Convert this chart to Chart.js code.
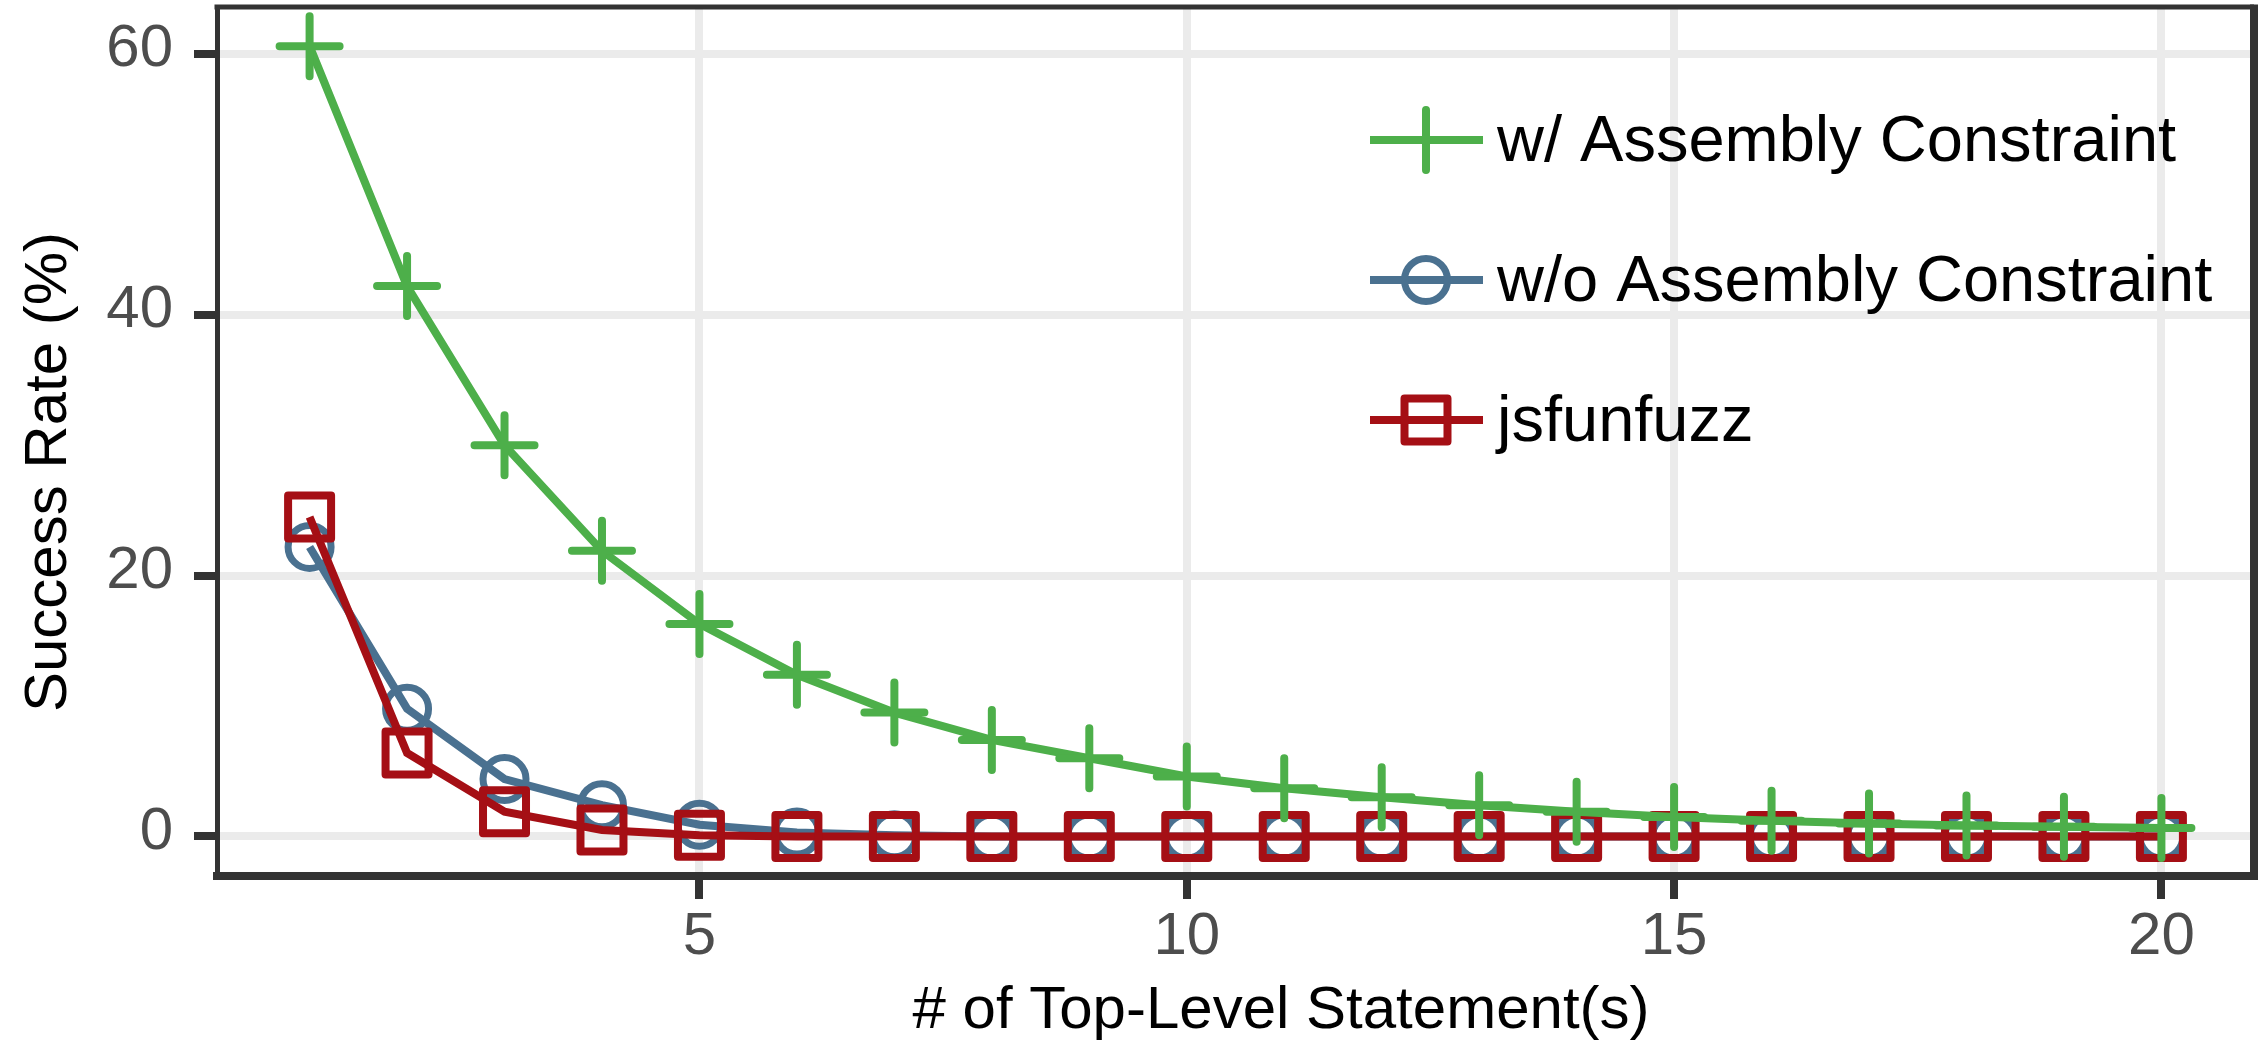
<!DOCTYPE html>
<html>
<head>
<meta charset="utf-8">
<script src="https://cdn.jsdelivr.net/npm/chart.js@4.4.1/dist/chart.umd.min.js"></script>
<style>
  html, body { margin: 0; padding: 0; background: #fff; }
  #wrap { width: 2262px; height: 1040px; }
</style>
</head>
<body>
<div id="wrap"><canvas id="chart" width="2262" height="1040"></canvas></div>
<script>
// ===== 資料 =====
const X_VALS = [1,2,3,4,5,6,7,8,9,10,11,12,13,14,15,16,17,18,19,20];
const W_ASM  = [60.6,42.2,30.0,21.9,16.3,12.4,9.5,7.4,6.0,4.6,3.7,3.0,2.4,1.9,1.5,1.2,1.0,0.85,0.75,0.65];
const WO_ASM = [22.2,9.8,4.4,2.4,0.9,0.3,0.1,0,0,0,0,0,0,0,0,0,0,0,0,0];
const JSFUNFUZZ = [24.5,6.4,1.9,0.5,0.1,0,0,0,0,0,0,0,0,0,0,0,0,0,0,0];
const SERIES_NAMES = ['w/ Assembly Constraint', 'w/o Assembly Constraint', 'jsfunfuzz'];
const X_TICKS = [5,10,15,20];
const Y_TICKS = [0,20,40,60];
const X_TITLE = '# of Top-Level Statement(s)';
const Y_TITLE = 'Success Rate (%)';

// ===== 樣式 =====
const FONT = "'Liberation Sans', Arial, Helvetica, sans-serif";
const C_GREEN = '#4daf4a', C_BLUE = '#4a7190', C_RED = '#a50f15';
const DARK = '#333333', GRID = '#ebebeb', TICK_TXT = '#4d4d4d';

const pts = arr => X_VALS.map((x, i) => ({ x, y: arr[i] }));
const mkSet = (label, arr, col, style, r, bw, order) => ({
  label, data: pts(arr), order,
  borderColor: col, borderWidth: 8, tension: 0, clip: false,
  pointStyle: style, pointRadius: r, pointBorderWidth: bw,
  pointBorderColor: col, pointBackgroundColor: 'rgba(0,0,0,0)',
  pointHoverRadius: r
});

// ===== 外框、座標軸標題、圖例 =====
const roundPts = {
  id: 'roundPts',
  beforeDatasetDraw(c) { c.ctx.lineCap = 'round'; c.ctx.lineJoin = 'round'; },
  afterDatasetDraw(c) { c.ctx.lineCap = 'butt'; c.ctx.lineJoin = 'miter'; }
};

const frame = {
  id: 'frame',
  afterDraw(c) {
    const { ctx, chartArea: { left, right, top, bottom } } = c;
    ctx.save();
    ctx.strokeStyle = DARK;
    ctx.lineWidth = 5;
    ctx.beginPath(); ctx.moveTo(left - 2.5, top); ctx.lineTo(right, top); ctx.stroke();
    ctx.lineWidth = 8;
    ctx.beginPath(); ctx.moveTo(right, top - 2.5); ctx.lineTo(right, bottom + 4); ctx.stroke();
    ctx.restore();
  }
};

const axisTitles = {
  id: 'axisTitles',
  afterDraw(c) {
    const { ctx } = c;
    ctx.save();
    ctx.fillStyle = '#000';
    ctx.font = `60px ${FONT}`;
    ctx.textAlign = 'center'; ctx.textBaseline = 'alphabetic';
    ctx.fillText(X_TITLE, 1281, 1028);
    ctx.translate(66, 472); ctx.rotate(-Math.PI / 2);
    ctx.fillText(Y_TITLE, 0, 0);
    ctx.restore();
  }
};

const legendBox = {
  id: 'legendBox',
  afterDraw(c) {
    const { ctx } = c;
    const x0 = 1370, x1 = 1483, xm = 1426, xt = 1497, y0 = 140, gap = 140;
    ctx.save();
    c.data.datasets.forEach((ds, i) => {
      const y = y0 + i * gap;
      ctx.strokeStyle = ds.borderColor;
      ctx.lineWidth = ds.borderWidth;
      ctx.lineCap = 'butt';
      ctx.beginPath(); ctx.moveTo(x0, y); ctx.lineTo(x1, y); ctx.stroke();
      ctx.lineCap = 'round'; ctx.lineJoin = 'round';
      ctx.lineWidth = ds.pointBorderWidth;
      ctx.fillStyle = 'rgba(0,0,0,0)';
      Chart.helpers.drawPoint(ctx, { pointStyle: ds.pointStyle, radius: ds.pointRadius, borderWidth: ds.pointBorderWidth, rotation: 0 }, xm, y);
      ctx.fillStyle = '#000';
      ctx.font = `65px ${FONT}`;
      ctx.textAlign = 'left'; ctx.textBaseline = 'alphabetic';
      ctx.fillText(ds.label, xt, y + 21);
    });
    ctx.restore();
  }
};

// ===== 圖表 =====
const gridOpts = { color: GRID, lineWidth: 8, drawTicks: true, tickLength: 23, tickWidth: 8, tickColor: DARK };
const tickFont = { family: FONT, size: 60, lineHeight: 1 };

new Chart(document.getElementById('chart'), {
  type: 'line',
  data: {
    datasets: [
      mkSet(SERIES_NAMES[0], W_ASM, C_GREEN, 'cross', 30, 8, 0),
      mkSet(SERIES_NAMES[1], WO_ASM, C_BLUE, 'circle', 21.5, 7, 2),
      mkSet(SERIES_NAMES[2], JSFUNFUZZ, C_RED, 'rect', 30.4, 8, 1)
    ]
  },
  options: {
    responsive: false, animation: false, devicePixelRatio: 1,
    layout: { autoPadding: false, padding: { top: 7, right: 8, left: 0, bottom: 0 } },
    plugins: { legend: { display: false }, tooltip: { enabled: false } },
    scales: {
      x: {
        type: 'linear', min: 0.05, max: 20.95,
        grid: gridOpts,
        border: { color: DARK, width: 8 },
        ticks: { font: tickFont, color: TICK_TXT, padding: 8, maxRotation: 0 },
        afterBuildTicks: s => { s.ticks = X_TICKS.map(v => ({ value: v })); },
        afterFit: s => { s.height = 164; s.paddingLeft = 0; s.paddingRight = 0; }
      },
      y: {
        type: 'linear', min: -3.03, max: 63.6,
        grid: gridOpts,
        border: { color: DARK, width: 5 },
        ticks: { font: tickFont, color: TICK_TXT, padding: 21, labelOffset: -4 },
        afterBuildTicks: s => { s.ticks = Y_TICKS.map(v => ({ value: v })); },
        afterFit: s => { s.width = 217; s.paddingTop = 0; s.paddingBottom = 0; }
      }
    }
  },
  plugins: [roundPts, frame, axisTitles, legendBox]
});
</script>
</body>
</html>
